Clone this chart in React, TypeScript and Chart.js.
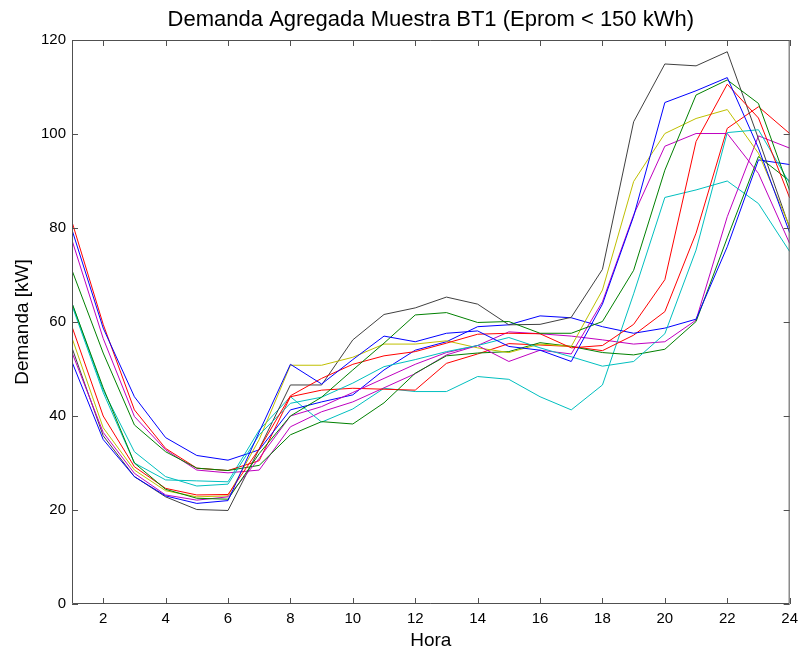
import React, { useEffect, useRef } from "react";
import { Chart, registerables } from "chart.js";

Chart.register(...registerables);

const hours = [1, 2, 3, 4, 5, 6, 7, 8, 9, 10, 11, 12, 13, 14, 15, 16, 17, 18, 19, 20, 21, 22, 23, 24];
const xTickValues = [2, 4, 6, 8, 10, 12, 14, 16, 18, 20, 22, 24];
const yTickValues = [0, 20, 40, 60, 80, 100, 120];

const blueA = [51.5, 35.0, 27.1, 23.0, 21.4, 22.0, 36.6, 51.0, 46.8, 52.0, 57.0, 55.8, 57.6, 58.1, 54.8, 54.0, 51.6, 63.8, 82.5, 106.7, 109.2, 112.0, 97.0, 79.0];
const greenA = [64.0, 46.0, 30.0, 24.4, 22.5, 22.3, 32.0, 40.0, 44.0, 49.8, 55.5, 61.5, 62.0, 59.9, 60.1, 57.6, 57.6, 60.1, 71.0, 92.3, 108.3, 111.5, 106.5, 88.0];
const redA = [59.0, 40.0, 29.2, 24.6, 23.2, 23.3, 33.0, 44.3, 48.0, 51.0, 52.8, 53.7, 55.5, 57.4, 57.6, 57.5, 54.5, 55.0, 59.5, 69.0, 98.4, 110.6, 103.4, 86.4];
const cyanA = [64.0, 45.5, 32.4, 27.1, 25.1, 25.5, 36.0, 42.7, 44.0, 47.0, 50.5, 52.0, 53.7, 55.0, 56.7, 54.5, 52.6, 50.6, 51.6, 57.5, 75.3, 100.3, 100.9, 89.5];
const magentaA = [53.5, 36.5, 27.8, 23.2, 22.1, 22.8, 31.0, 40.0, 42.0, 45.0, 48.0, 51.0, 53.5, 55.0, 51.6, 54.0, 53.2, 64.3, 82.8, 97.4, 100.1, 100.1, 91.6, 76.7];
const yellowA = [56.6, 37.5, 28.5, 24.1, 22.8, 23.0, 35.0, 50.8, 50.8, 52.5, 55.3, 55.3, 56.0, 54.5, 53.5, 55.3, 54.8, 66.8, 89.9, 100.1, 103.3, 105.2, 95.9, 80.3];
const blackA = [54.5, 35.8, 27.1, 22.8, 20.1, 19.9, 33.0, 46.6, 46.6, 56.2, 61.6, 63.0, 65.3, 63.8, 59.4, 59.5, 61.0, 71.2, 102.6, 114.9, 114.5, 117.5, 99.0, 80.0];
const blueB = [79.6, 58.7, 44.1, 35.4, 31.6, 30.6, 32.8, 41.3, 43.0, 44.5, 49.8, 54.0, 55.8, 59.0, 59.4, 61.3, 60.9, 59.0, 57.6, 58.7, 60.6, 76.0, 94.5, 93.5];
const greenB = [71.0, 53.4, 38.1, 32.4, 28.9, 28.4, 29.5, 36.0, 38.8, 38.3, 42.8, 49.1, 52.8, 53.4, 53.7, 55.6, 54.8, 53.5, 53.0, 54.2, 60.1, 77.9, 95.2, 90.0];
const redB = [81.3, 59.5, 41.3, 33.1, 28.9, 28.4, 30.5, 44.1, 45.5, 45.9, 45.7, 45.5, 51.2, 53.2, 55.4, 55.1, 54.8, 53.9, 57.2, 62.2, 78.9, 101.2, 105.8, 100.1];
const cyanB = [63.5, 45.0, 30.0, 26.4, 26.2, 26.0, 37.0, 44.1, 38.7, 41.5, 45.9, 45.2, 45.2, 48.4, 47.8, 44.1, 41.3, 46.6, 66.0, 86.5, 88.1, 90.0, 85.2, 75.0];
const magentaB = [77.4, 56.5, 39.9, 32.8, 28.5, 27.9, 28.5, 37.7, 40.9, 43.0, 46.0, 49.0, 53.0, 55.0, 57.9, 57.5, 57.0, 56.2, 55.3, 55.8, 60.4, 82.4, 99.6, 97.0];

const seriesList = [blueA, greenA, redA, cyanA, magentaA, yellowA, blackA, blueB, greenB, redB, cyanB, magentaB];
const seriesColors = ["#0000ff", "#008000", "#ff0000", "#00bfbf", "#bf00bf", "#bfbf00", "#404040", "#0000ff", "#008000", "#ff0000", "#00bfbf", "#bf00bf"];

const titleText = "Demanda Agregada Muestra BT1 (Eprom < 150 kWh)";
const xTitle = "Hora";
const yTitle = "Demanda [kW]";

const FONT = "'Liberation Sans', Arial, Helvetica, sans-serif";

const framePlugin = {
  id: "matlabFrame",
  afterDraw(chart: any) {
    const { ctx, chartArea, scales } = chart;
    const { left, right, top, bottom } = chartArea;
    const x = scales.x;
    const y = scales.y;
    const tl = 6;
    ctx.save();
    ctx.strokeStyle = "#505050";
    ctx.lineWidth = 1;
    ctx.beginPath();
    ctx.rect(left + 0.5, top + 0.5, right - left - 1, bottom - top - 1);
    ctx.stroke();
    ctx.beginPath();
    for (const v of xTickValues) {
      const px = Math.round(x.getPixelForValue(v)) + 0.5;
      ctx.moveTo(px, bottom);
      ctx.lineTo(px, bottom - tl);
      ctx.moveTo(px, top);
      ctx.lineTo(px, top + tl);
    }
    for (const v of yTickValues) {
      const py = Math.round(y.getPixelForValue(v)) + 0.5;
      ctx.moveTo(left, py);
      ctx.lineTo(left + tl, py);
      ctx.moveTo(right, py);
      ctx.lineTo(right - tl, py);
    }
    ctx.stroke();
    // title centred over the plot area
    ctx.fillStyle = "#000";
    ctx.font = "22px " + FONT;
    ctx.textAlign = "center";
    ctx.textBaseline = "middle";
    ctx.fillText(titleText, (left + right) / 2, 20);
    ctx.restore();
  },
};

export default function App() {
  const canvasRef = useRef<HTMLCanvasElement | null>(null);

  useEffect(() => {
    if (!canvasRef.current) return;
    const chart = new Chart(canvasRef.current, {
      type: "line",
      data: {
        labels: hours,
        datasets: seriesList.map((s, i) => ({
          label: "Serie " + (i + 1),
          data: s.map((v, j) => ({ x: hours[j], y: v })),
          borderColor: seriesColors[i],
          backgroundColor: seriesColors[i],
          borderWidth: 1,
          pointRadius: 0,
          tension: 0,
          fill: false,
        })),
      },
      options: {
        animation: false,
        responsive: true,
        maintainAspectRatio: false,
        layout: { padding: { left: 0, right: 13, top: 40, bottom: 0 } },
        plugins: {
          legend: { display: false },
          tooltip: { enabled: false },
          title: { display: false },
        },
        scales: {
          x: {
            type: "linear",
            min: 1,
            max: 24,
            grid: { display: false, drawTicks: false },
            border: { display: false },
            afterBuildTicks: (scale: any) => {
              scale.ticks = xTickValues.map((v) => ({ value: v }));
            },
            afterFit: (scale: any) => {
              scale.height = 54;
            },
            ticks: {
              color: "#000",
              padding: 6,
              maxRotation: 0,
              autoSkip: false,
              font: { family: FONT, size: 15 },
            },
            title: {
              display: true,
              text: xTitle,
              color: "#000",
              font: { family: FONT, size: 19 },
              padding: { top: 0, bottom: 6 },
            },
          },
          y: {
            type: "linear",
            min: 0,
            max: 120,
            grid: { display: false, drawTicks: false },
            border: { display: false },
            afterBuildTicks: (scale: any) => {
              scale.ticks = yTickValues.map((v) => ({ value: v }));
            },
            afterFit: (scale: any) => {
              scale.width = 72;
            },
            ticks: {
              color: "#000",
              padding: 6,
              font: { family: FONT, size: 15 },
            },
            title: {
              display: true,
              text: yTitle,
              color: "#000",
              font: { family: FONT, size: 19 },
              padding: { top: 11, bottom: 0 },
            },
          },
        },
      },
      plugins: [framePlugin],
    });
    return () => chart.destroy();
  }, []);

  return (
    <div style={{ position: "absolute", left: 0, top: 0, width: 804, height: 658, background: "#fff" }}>
      <canvas ref={canvasRef} />
    </div>
  );
}
